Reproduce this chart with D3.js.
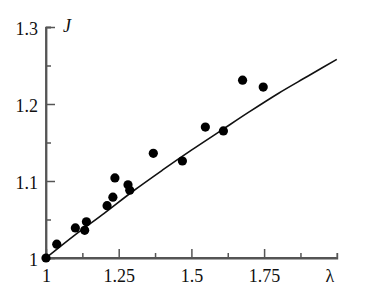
<!DOCTYPE html>
<html>
<head>
<meta charset="utf-8">
<script src="https://cdn.jsdelivr.net/npm/d3@7"></script>
<style>
  body { margin: 0; background: #fff; }
  svg text { font-family: "Liberation Serif", "DejaVu Serif", serif; }
</style>
</head>
<body>
<div id="chart"></div>
<script>
// measured points (lambda, J)
var lambdaVals = [1.0, 1.037, 1.101, 1.133, 1.139, 1.210, 1.230, 1.237, 1.282, 1.288,
                  1.369, 1.469, 1.548, 1.610, 1.676, 1.747];
var jVals      = [1.000, 1.018, 1.039, 1.036, 1.047, 1.068, 1.079, 1.104, 1.095, 1.088,
                  1.136, 1.126, 1.170, 1.165, 1.231, 1.222];

// curve
var curveLambda = [1.0, 1.1, 1.2, 1.3, 1.4, 1.5, 1.6, 1.7, 1.8, 1.9, 2.0];
var curveJ      = [1.000, 1.030, 1.058, 1.087, 1.114, 1.140, 1.165, 1.190, 1.214, 1.236, 1.258];

var xMajor = [1, 1.25, 1.5, 1.75];
var xMinor = [1.125, 1.375, 1.625, 1.875];
var yMajor = [1, 1.1, 1.2, 1.3];
var yMinor = [1.05, 1.15, 1.25];

var width = 365, height = 290;

var svg = d3.select("#chart").append("svg")
    .attr("width", width)
    .attr("height", height);

var x = d3.scaleLinear().domain([1, 2]).range([46, 336.8]);
var y = d3.scaleLinear().domain([1, 1.3]).range([258, 27]);

var axisColor = "#555";

// x axis
var gx = svg.append("g").attr("transform", "translate(0," + y(1) + ")");
gx.call(d3.axisBottom(x).tickValues(xMajor).tickSize(-9).tickPadding(11)
    .tickFormat(function(d){ return d === 1 ? "1" : d3.format("")(d); }));
gx.append("g").call(d3.axisBottom(x).tickValues(xMinor).tickSize(-5).tickFormat(""));

// y axis
var gy = svg.append("g").attr("transform", "translate(" + x(1) + ",0)");
gy.call(d3.axisLeft(y).tickValues(yMajor).tickSize(-9).tickPadding(8)
    .tickFormat(function(d){ return d === 1 ? "1" : d3.format(".1f")(d); }));
gy.append("g").call(d3.axisLeft(y).tickValues(yMinor).tickSize(-5).tickFormat(""));

svg.selectAll(".domain").attr("stroke", axisColor).attr("stroke-width", 1.8);
svg.selectAll(".tick line").attr("stroke", axisColor).attr("stroke-width", 1.5);
svg.selectAll(".tick text")
    .attr("fill", "#111")
    .style("font-size", "18px")
    .style("font-family", "'Liberation Serif', serif");
gy.selectAll(".tick text").attr("dy", "0.4em");
gx.select(".domain").attr("d", "M" + x(1) + ",0H" + x(2));
gy.select(".domain").attr("d", "M0," + y(1) + "V" + y(1.3));

// axis titles
svg.append("text")
    .attr("x", x(1) + 17)
    .attr("y", y(1.3) + 5)
    .style("font-size", "18px")
    .style("font-style", "italic")
    .attr("fill", "#111")
    .text("J");

svg.append("text")
    .attr("x", x(2) - 7)
    .attr("y", y(1) + 24)
    .attr("text-anchor", "middle")
    .style("font-size", "18px")
    .attr("fill", "#111")
    .text("λ");

// curve
var line = d3.line()
    .x(function(d){ return x(d[0]); })
    .y(function(d){ return y(d[1]); })
    .curve(d3.curveMonotoneX);

svg.append("path")
    .datum(d3.zip(curveLambda, curveJ))
    .attr("fill", "none")
    .attr("stroke", "#111")
    .attr("stroke-width", 1.6)
    .attr("d", line);

// points
svg.selectAll("circle.pt")
    .data(d3.zip(lambdaVals, jVals))
    .enter().append("circle")
    .attr("class", "pt")
    .attr("cx", function(d){ return x(d[0]); })
    .attr("cy", function(d){ return y(d[1]); })
    .attr("r", 4.6)
    .attr("fill", "#000");
</script>
</body>
</html>
